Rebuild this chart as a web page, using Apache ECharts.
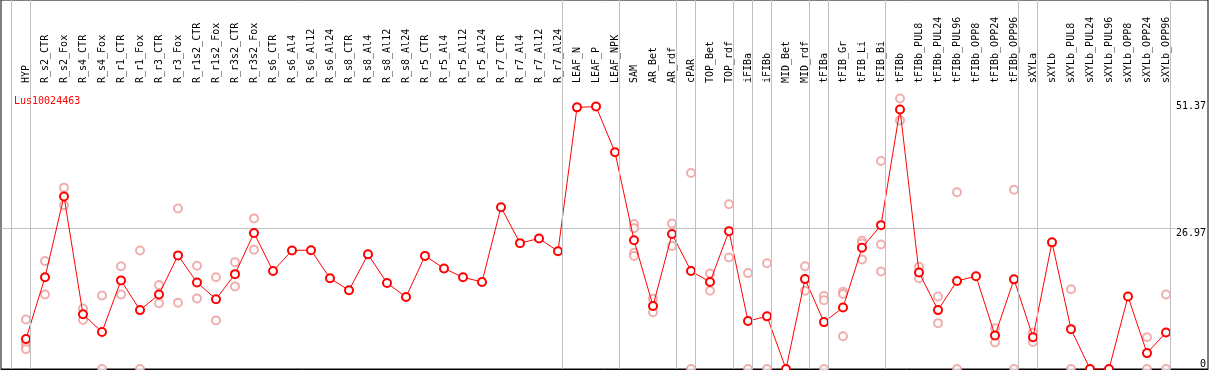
<!DOCTYPE html>
<html>
<head>
<meta charset="utf-8">
<script src="https://cdn.jsdelivr.net/npm/echarts@6.0.0/dist/echarts.min.js"></script>
<style>
html,body{margin:0;padding:0;background:#fff;}
#chart{width:1209px;height:370px;}
</style>
</head>
<body>
<div id="chart"></div>
<script>
const categories = ["HYP","R_s2_CTR","R_s2_Fox","R_s4_CTR","R_s4_Fox","R_r1_CTR","R_r1_Fox","R_r3_CTR","R_r3_Fox","R_r1s2_CTR","R_r1s2_Fox","R_r3s2_CTR","R_r3s2_Fox","R_s6_CTR","R_s6_Al4","R_s6_Al12","R_s6_Al24","R_s8_CTR","R_s8_Al4","R_s8_Al12","R_s8_Al24","R_r5_CTR","R_r5_Al4","R_r5_Al12","R_r5_Al24","R_r7_CTR","R_r7_Al4","R_r7_Al12","R_r7_Al24","LEAF_N","LEAF_P","LEAF_NPK","SAM","AR_Bet","AR_rdf","cPAR","TOP_Bet","TOP_rdf","iFIBa","iFIBb","MID_Bet","MID_rdf","tFIBa","tFIB_Gr","tFIB_Li","tFIB_Bi","tFIBb","tFIBb_PUL8","tFIBb_PUL24","tFIBb_PUL96","tFIBb_OPP8","tFIBb_OPP24","tFIBb_OPP96","sXYLa","sXYLb","sXYLb_PUL8","sXYLb_PUL24","sXYLb_PUL96","sXYLb_OPP8","sXYLb_OPP24","sXYLb_OPP96"];

const meanValues = [5.75,17.6,33.1,10.5,7.1,17.0,11.3,14.3,21.8,16.6,13.4,18.2,26.1,18.8,22.75,22.8,17.4,15.1,22.0,16.5,13.8,21.7,19.3,17.6,16.7,31.05,24.15,25.05,22.6,50.2,50.35,41.6,24.7,12.1,25.9,18.8,16.7,26.45,9.2,10.1,0,17.25,9.0,11.8,23.25,27.6,49.8,18.5,11.3,16.9,17.8,6.45,17.2,6.1,24.3,7.65,0,0,13.9,3.05,7.0];

const replicateValues = [
  [9.5,5.0,4.2,3.8],[20.7,14.3],[34.8,31.4],[11.6,9.4],[14.1,0],[19.7,14.3],[22.75,0],[16.1,12.6],[30.8,12.7],[19.8,13.55],[17.6,9.3],[20.5,15.85],[28.9,22.9],
  [],[],[],[],[],[],[],[],[],[],[],[],[],[],[],[],[],[],[],
  [27.8,27.0,22.3,21.7],[13.5,10.9],[27.9,23.6],[37.6,0],[18.3,15.0],[31.6,21.4],[18.4,0],[20.3,0],[],[19.7,15.0],[14.0,13.2,0],[14.8,14.4,6.3],[24.6,24.1,21.0],[39.9,23.9,18.7],[51.9,47.7],
  [19.6,17.4],[13.9,8.8],[33.9,0],[],[7.8,5.1],[34.4,0],[7.0,5.2],[],[15.3,0],[],[],[],[6.1,0],[14.3,0]
];

// last category index of each sample group (-1 = before first)
const groupEnds = [-1,0,28,31,34,35,37,38,39,41,42,45,52,53,60];

const yTickValues = [0, 26.97, 51.37];
const yTickLabels = ["0", "26.97", "51.37"];
const geneName = "Lus10024463";

const FONT = "DejaVu Sans Mono";
const X_MIN = -25/19, X_MAX = 60 + 42/19;
const Y_MAX = 54.3;

const meanData = meanValues.map((v,i)=>[i,v]);
const repData = [];
replicateValues.forEach((arr,i)=>arr.forEach(v=>repData.push([i,v])));

const chart = echarts.init(document.getElementById('chart'), null, {renderer:'canvas'});
chart.setOption({
  animation:false,
  backgroundColor:'#fff',
  title:{text:geneName,left:9,top:91,textStyle:{color:'#ff0000',fontSize:10,fontFamily:FONT,fontWeight:'normal'}},
  grid:[
    {left:1,right:1,top:86,bottom:1,show:false},
    {left:1,right:1,top:0,bottom:1,show:true,borderColor:'#000',borderWidth:1,backgroundColor:'transparent'}
  ],
  xAxis:[
    {type:'value',gridIndex:0,position:'top',min:X_MIN,max:X_MAX,
     axisLine:{show:true,lineStyle:{color:'#000',width:1}},axisTick:{show:false},splitLine:{show:false},
     axisLabel:{customValues:categories.map((c,i)=>i),rotate:90,margin:3,color:'#000',fontSize:10,fontFamily:FONT,
       formatter:v=>categories[Math.round(v)]}},
    {type:'value',gridIndex:1,min:X_MIN,max:X_MAX,show:false}
  ],
  yAxis:[
    {type:'value',gridIndex:0,position:'right',min:0,max:Y_MAX,
     axisLine:{show:false},axisTick:{show:false},splitLine:{show:false},
     axisLabel:{inside:true,margin:2,customValues:yTickValues.slice(1),verticalAlign:'top',color:'#000',fontSize:10,fontFamily:FONT,
       backgroundColor:'#fff',padding:[0,0,0,1],
       formatter:v=>yTickLabels[yTickValues.indexOf(v)]}},
    {type:'value',gridIndex:0,position:'right',min:0,max:Y_MAX,
     axisLine:{show:false},axisTick:{show:false},splitLine:{show:false},
     axisLabel:{inside:true,margin:2,customValues:[yTickValues[0]],verticalAlign:'bottom',color:'#000',fontSize:10,fontFamily:FONT,
       formatter:v=>yTickLabels[yTickValues.indexOf(v)]}},
    {type:'value',gridIndex:1,min:0,max:1,show:false}
  ],
  series:[
    {type:'line',xAxisIndex:1,yAxisIndex:2,data:[],silent:true,z:1,
     markLine:{silent:true,symbol:['none','none'],label:{show:false},animation:false,
       lineStyle:{color:'#c0c0c0',width:1,type:'solid'},
       data:groupEnds.map(g=>({xAxis:g+0.23}))}},
    {type:'scatter',xAxisIndex:0,yAxisIndex:0,data:repData,symbol:'emptyCircle',symbolSize:8,z:2,
     itemStyle:{color:'#ee9a9a',borderColor:'#ee9a9a',borderWidth:1.5}},
    {type:'line',xAxisIndex:0,yAxisIndex:0,data:meanData,symbol:'emptyCircle',symbolSize:8,z:3,
     lineStyle:{color:'#ff0000',width:1},itemStyle:{color:'#ff0000',borderColor:'#ff0000',borderWidth:1.5},
     markLine:{silent:true,symbol:['none','none'],label:{show:false},animation:false,z:0,
       lineStyle:{color:'#c0c0c0',width:1,type:'solid'},data:[{yAxis:yTickValues[1]}]}}
  ]
});
</script>
</body>
</html>
